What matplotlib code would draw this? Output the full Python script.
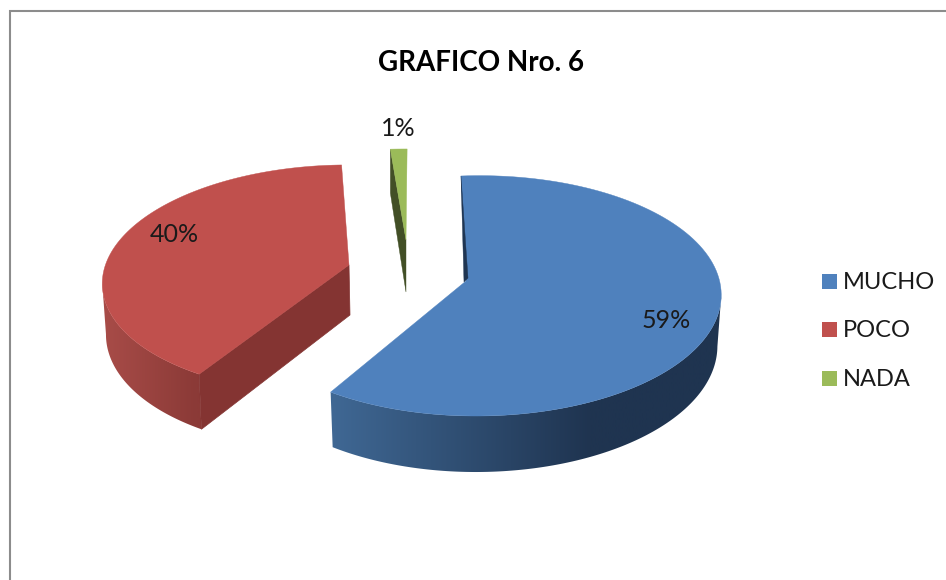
import numpy as np
import matplotlib
matplotlib.use('Agg')
import matplotlib.pyplot as plt
from matplotlib.colors import LinearSegmentedColormap
from matplotlib.patches import Polygon, Rectangle

categories = ['MUCHO', 'POCO', 'NADA']
values = [59, 40, 1]
value_labels = ['59%', '40%', '1%']
title = 'GRAFICO Nro. 6'

top_colors = ['#4f81bd', '#c0504d', '#9bbb59']
flat_wall_colors = ['#1f3552', '#843432', '#424f26']

# Perspective of each exploded slice, in pixels: (a, d, e, b, g, c, p, q)
# x = (a*X + d*Y + e) / w, y = (b*Y + g*X + c) / w, w = 1 + p*Y + q*X
views = [
    (220, 52.6, 466, -83, -17, 281, 0.125, -0.045),
    (248, 50, 349, -79.4, 10, 265, 0.125, 0.04),
    (300, 52, 406, -72.4, 0, 240, 0.125, 0),
]
wall_shrink = [0.985, 0.985, 1.0]


def project(view, t):
    a, d, e, b, g, c, p, q = view
    X, Y = np.sin(t), np.cos(t)
    w = 1 + p * Y + q * X
    return (a * X + d * Y + e) / w, (b * Y + g * X + c) / w, Y


def lower(x, y, Y, center_x, shrink):
    # the bottom face sits lower and a little narrower than the top face
    return center_x + (x - center_x) * shrink, y + 50 - 6 * Y


def outer_wall(ax, view, shrink, ts, c0, c1, x0, x1):
    # curved wall: horizontal gradient from x0 to x1, flat beyond, clipped to the band between both rims
    xs, ys, Ys = project(view, ts)
    bxs, bys = lower(xs, ys, Ys, view[2], shrink)
    band = list(zip(xs, ys)) + list(zip(bxs[::-1], bys[::-1]))
    left, right = min(xs.min(), bxs.min()) - 2, max(xs.max(), bxs.max()) + 2
    f0 = (x0 - left) / (right - left)
    f1 = (x1 - left) / (right - left)
    cmap = LinearSegmentedColormap.from_list('wall', [(0, c0), (f0, c0), (f1, c1), (1, c1)])
    im = ax.imshow(np.linspace(0, 1, 512)[None, :], cmap=cmap, aspect='auto',
                   extent=(left, right, 580, 0), interpolation='bilinear')
    im.set_clip_path(Polygon(band, closed=True, transform=ax.transData))


fig = plt.figure(figsize=(9.46, 5.8), dpi=100)
ax = fig.add_axes([0, 0, 1, 1])

edges = np.radians(np.cumsum([0] + values) / sum(values) * 360)

# blue and red curved walls, each from the cut edge to the rim's outermost point
ts_blue = np.linspace(edges[0], edges[1], 300)
ts_blue = ts_blue[np.argmax(project(views[0], ts_blue)[0]):]
ts_red = np.linspace(edges[1], edges[2], 300)
ts_red = ts_red[:np.argmin(project(views[1], ts_red)[0]) + 1]
outer_wall(ax, views[0], wall_shrink[0], ts_blue, '#3f6793', '#1f3450', 335, 590)
outer_wall(ax, views[1], wall_shrink[1], ts_red, '#a84c48', '#8b3a37', 104, 196)

ax.set_xlim(0, 946)
ax.set_ylim(580, 0)
ax.axis('off')

# chart frame, cut by the image on the right and bottom
ax.plot([9.5, 9.5, 946], [580, 10.5, 10.5], color='#8c8c8c', lw=1.5, solid_joinstyle='miter')

# red flat cut wall
view = views[1]
x_t, y_t, Y_t = project(view, edges[1])
bx_t, by_t = lower(x_t, y_t, Y_t, view[2], wall_shrink[1])
ax.add_patch(Polygon([(view[2], view[5]), (x_t, y_t), (bx_t, by_t), (view[2] + 1, view[5] + 50)],
                     closed=True, fc=flat_wall_colors[1], ec=flat_wall_colors[1], lw=0.5))

# green inner wall
view = views[2]
x_g, y_g, Y_g = project(view, edges[2])
bx_g, by_g = lower(x_g, y_g, Y_g, view[2], wall_shrink[2])
ax.add_patch(Polygon([(x_g, y_g), (bx_g, by_g), (view[2], view[5] + 52), (view[2], view[5])],
                     closed=True, fc=flat_wall_colors[2], ec=flat_wall_colors[2], lw=0.3))

# top faces
for i in range(len(values)):
    ts = np.linspace(edges[i], edges[i + 1], 120)
    xs, ys, _ = project(views[i], ts)
    pts = [(views[i][2], views[i][5])] + list(zip(xs, ys))
    ax.add_patch(Polygon(pts, closed=True, fc=top_colors[i], ec=top_colors[i], lw=0.3))

# dark sliver at the start of the blue slice
view = views[0]
x_b, y_b, _ = project(view, 0.0)
ax.add_patch(Polygon([(x_b, y_b), (view[2] - 2, view[5] + 1), (view[2] + 2, view[5] - 3)],
                     closed=True, fc=flat_wall_colors[0], ec=flat_wall_colors[0], lw=0.3))

font = 'Lato'
text_color = '#1a1a1a'
ax.text(481, 63, title, ha='center', va='center', fontsize=20, fontweight='bold', family=font, color='black')

label_pos = [(666, 321), (174, 235), (398, 129)]
for (lx, ly), lab in zip(label_pos, value_labels):
    ax.text(lx, ly, lab, ha='center', va='center', fontsize=18, family=font, color=text_color)

legend_y = [281.5, 329.5, 378.5]
for ly, cat, col in zip(legend_y, categories, top_colors):
    ax.add_patch(Rectangle((822, ly - 7.5), 14.5, 15, fc=col, ec='none'))
    ax.text(843, ly + 1, cat, ha='left', va='center', fontsize=17, family=font, color=text_color)

fig.savefig('out.png', dpi=100)
